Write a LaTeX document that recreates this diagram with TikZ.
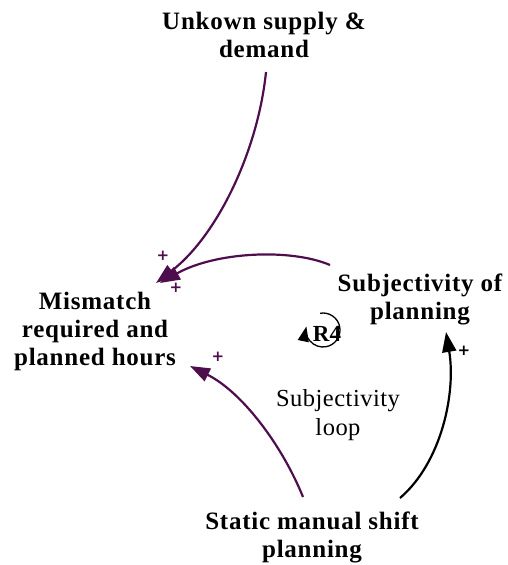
\documentclass[tikz,border=0pt]{standalone}
\usepackage{fontspec}
\setmainfont{Liberation Serif}
\newfontfamily\signfont{DejaVu Sans}
\usetikzlibrary{arrows.meta}
\definecolor{linkpurple}{RGB}{78,14,78}
\begin{document}
\begin{tikzpicture}[x=1pt,y=-1pt,
  var/.style={font=\bfseries\fontsize{25}{28}\selectfont\addfontfeature{LetterSpace=3}, align=center, inner sep=0pt},
  note/.style={font=\fontsize{24.5}{29}\selectfont\addfontfeature{LetterSpace=2}, align=center, inner sep=0pt},
  link/.style={line width=2.2pt, -{Triangle[length=20pt,width=14pt]}},
  sign/.style={font=\signfont\bfseries\fontsize{15}{15}\selectfont, inner sep=0pt}]
\useasboundingbox (0,0) rectangle (508,565);
\node[var] (unk) at (264,35) {Unkown supply \&\\demand};
\node[var] (mis) at (95,331) {Mismatch\\required and\\planned hours};
\node[var] (sub) at (420,299) {Subjectivity of\\planning};
\node[var] (sta) at (312,537) {Static manual shift\\planning};
\node[note] (loop) at (338,415) {Subjectivity\\loop};
% free ends
\coordinate (a1s) at (266,72);
\coordinate (a1e) at (156,283);
\coordinate (a2s) at (330,265);
\coordinate (a2e) at (160,283);
\coordinate (a3s) at (303,497);
\coordinate (a3e) at (190,366);
\coordinate (a4s) at (400,498);
\coordinate (a4e) at (446,332);
\draw[link, draw=linkpurple] (a1s) .. controls (258,150) and (218,235) .. (a1e);
\draw[link, draw=linkpurple] (a2s) .. controls (290,248) and (215,252) .. (a2e);
\draw[link, draw=linkpurple] (a3s) .. controls (282,445) and (242,392) .. (a3e);
\draw[link, draw=black] (a4s) .. controls (442,462) and (456,392) .. (a4e);
\node[sign, text=linkpurple] (p1) at (163,256) {+};
\node[sign, text=linkpurple] (p2) at (176,288) {+};
\node[sign, text=linkpurple] (p3) at (218,357) {+};
\node[sign] (p4) at (464,351) {+};
% loop marker
\node[inner sep=0pt, font=\bfseries\fontsize{23}{23}\selectfont] (r4) at (327,334) {R4};
\coordinate (r4c) at (323,330);
\draw[line width=1.3pt, -{Triangle[length=15pt,width=11pt]}] (r4c) ++(-100:17) arc[start angle=-100, end angle=192, radius=17];
\end{tikzpicture}
\end{document}
